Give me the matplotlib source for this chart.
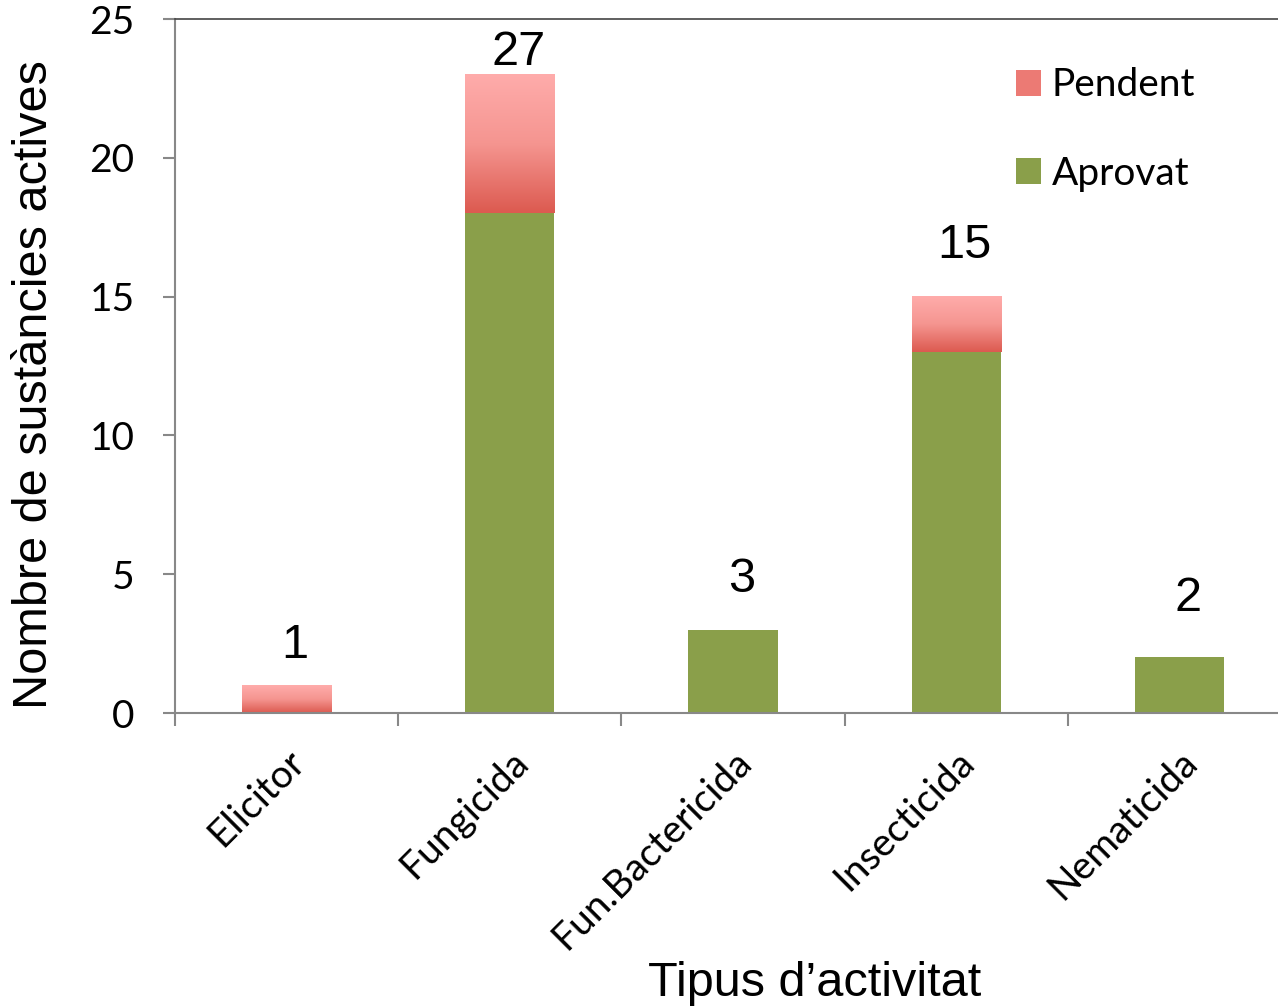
import numpy as np
import matplotlib
matplotlib.use('Agg')
import matplotlib.pyplot as plt
from matplotlib.colors import LinearSegmentedColormap
from matplotlib.patches import Patch

# Active substances by type of activity
categories = ['Elicitor', 'Fungicida', 'Fun.Bactericida', 'Insecticida', 'Nematicida']
aprovat = [0, 18, 3, 13, 2]
pendent = [1, 5, 0, 2, 0]
total_labels = ['1', '27', '3', '15', '2']

green = '#8a9f4a'
red_cmap = LinearSegmentedColormap.from_list('pend', ['#dc5a50', '#f59590', '#ffacab'])
label_font = 'Lato'
big_font = 'Liberation Sans'

fig = plt.figure(figsize=(12.78, 10.07), dpi=100)
ax = fig.add_axes([175 / 1278, 1 - 713 / 1007, 1116 / 1278, 694 / 1007])

x = np.arange(len(categories))
width = 0.40

ax.bar(x, aprovat, width, color=green, zorder=2)

# pending segments drawn as vertical gradients clipped to their bars
grad = np.linspace(0, 1, 256).reshape(-1, 1)
for xi, a, p in zip(x, aprovat, pendent):
    if p <= 0:
        continue
    ax.imshow(grad, extent=[xi - width / 2, xi + width / 2, a, a + p],
              origin='lower', aspect='auto', cmap=red_cmap, zorder=2,
              interpolation='bicubic')

ax.set_xlim(-0.5, len(categories) - 0.5)
ax.set_ylim(0, 25)

# value labels above each bar
offsets = [40, 22, 50, 51, 59]
for xi, a, p, txt, off in zip(x, aprovat, pendent, total_labels, offsets):
    ax.annotate(txt, (xi, a + p), xytext=(6, off * 0.72), textcoords='offset points',
                ha='center', va='center', fontsize=35, family=big_font)

ax.set_yticks([0, 5, 10, 15, 20, 25])
ax.set_xticks(np.arange(-0.5, len(categories) + 0.5, 1))
ax.set_xticklabels([])
ax.set_xticks(x, minor=True)
ax.set_xticklabels(categories, minor=True, rotation=45, ha='right',
                   rotation_mode='anchor', fontsize=28, family=label_font)
ax.tick_params(axis='x', which='minor', length=0, pad=22)
ax.tick_params(axis='x', which='major', length=9, width=1.5, color='#888888', direction='out')
ax.tick_params(axis='y', length=9, width=1.5, color='#888888', direction='out',
               labelsize=28, pad=20)
for lab in ax.get_yticklabels():
    lab.set_family(label_font)

for side in ['left', 'bottom']:
    ax.spines[side].set_color('#888888')
    ax.spines[side].set_linewidth(1.5)
ax.spines['right'].set_visible(False)
ax.spines['top'].set_color('#444444')
ax.spines['top'].set_linewidth(1.2)

ax.set_ylabel('Nombre de sustàncies actives', fontsize=35, family=big_font)
ax.yaxis.set_label_coords(-(175 - 35) / 1116, (713 - 385) / 694)
ax.yaxis.label.set_va('center')
ax.set_xlabel('Tipus d\u2019activitat', fontsize=35, family=big_font)
ax.xaxis.set_label_coords((815 - 175) / 1116, -(983 - 713) / 694)
ax.xaxis.label.set_va('center')

handles = [Patch(facecolor='#ec7a74', label='Pendent'),
           Patch(facecolor=green, label='Aprovat')]
ax.legend(handles=handles, loc='upper left', bbox_to_anchor=(0.722, 0.981),
          frameon=False, prop={'family': label_font, 'size': 28},
          handlelength=0.65, handleheight=0.65, handletextpad=0.28, labelspacing=1.35)

fig.savefig('out.png', dpi=100)
